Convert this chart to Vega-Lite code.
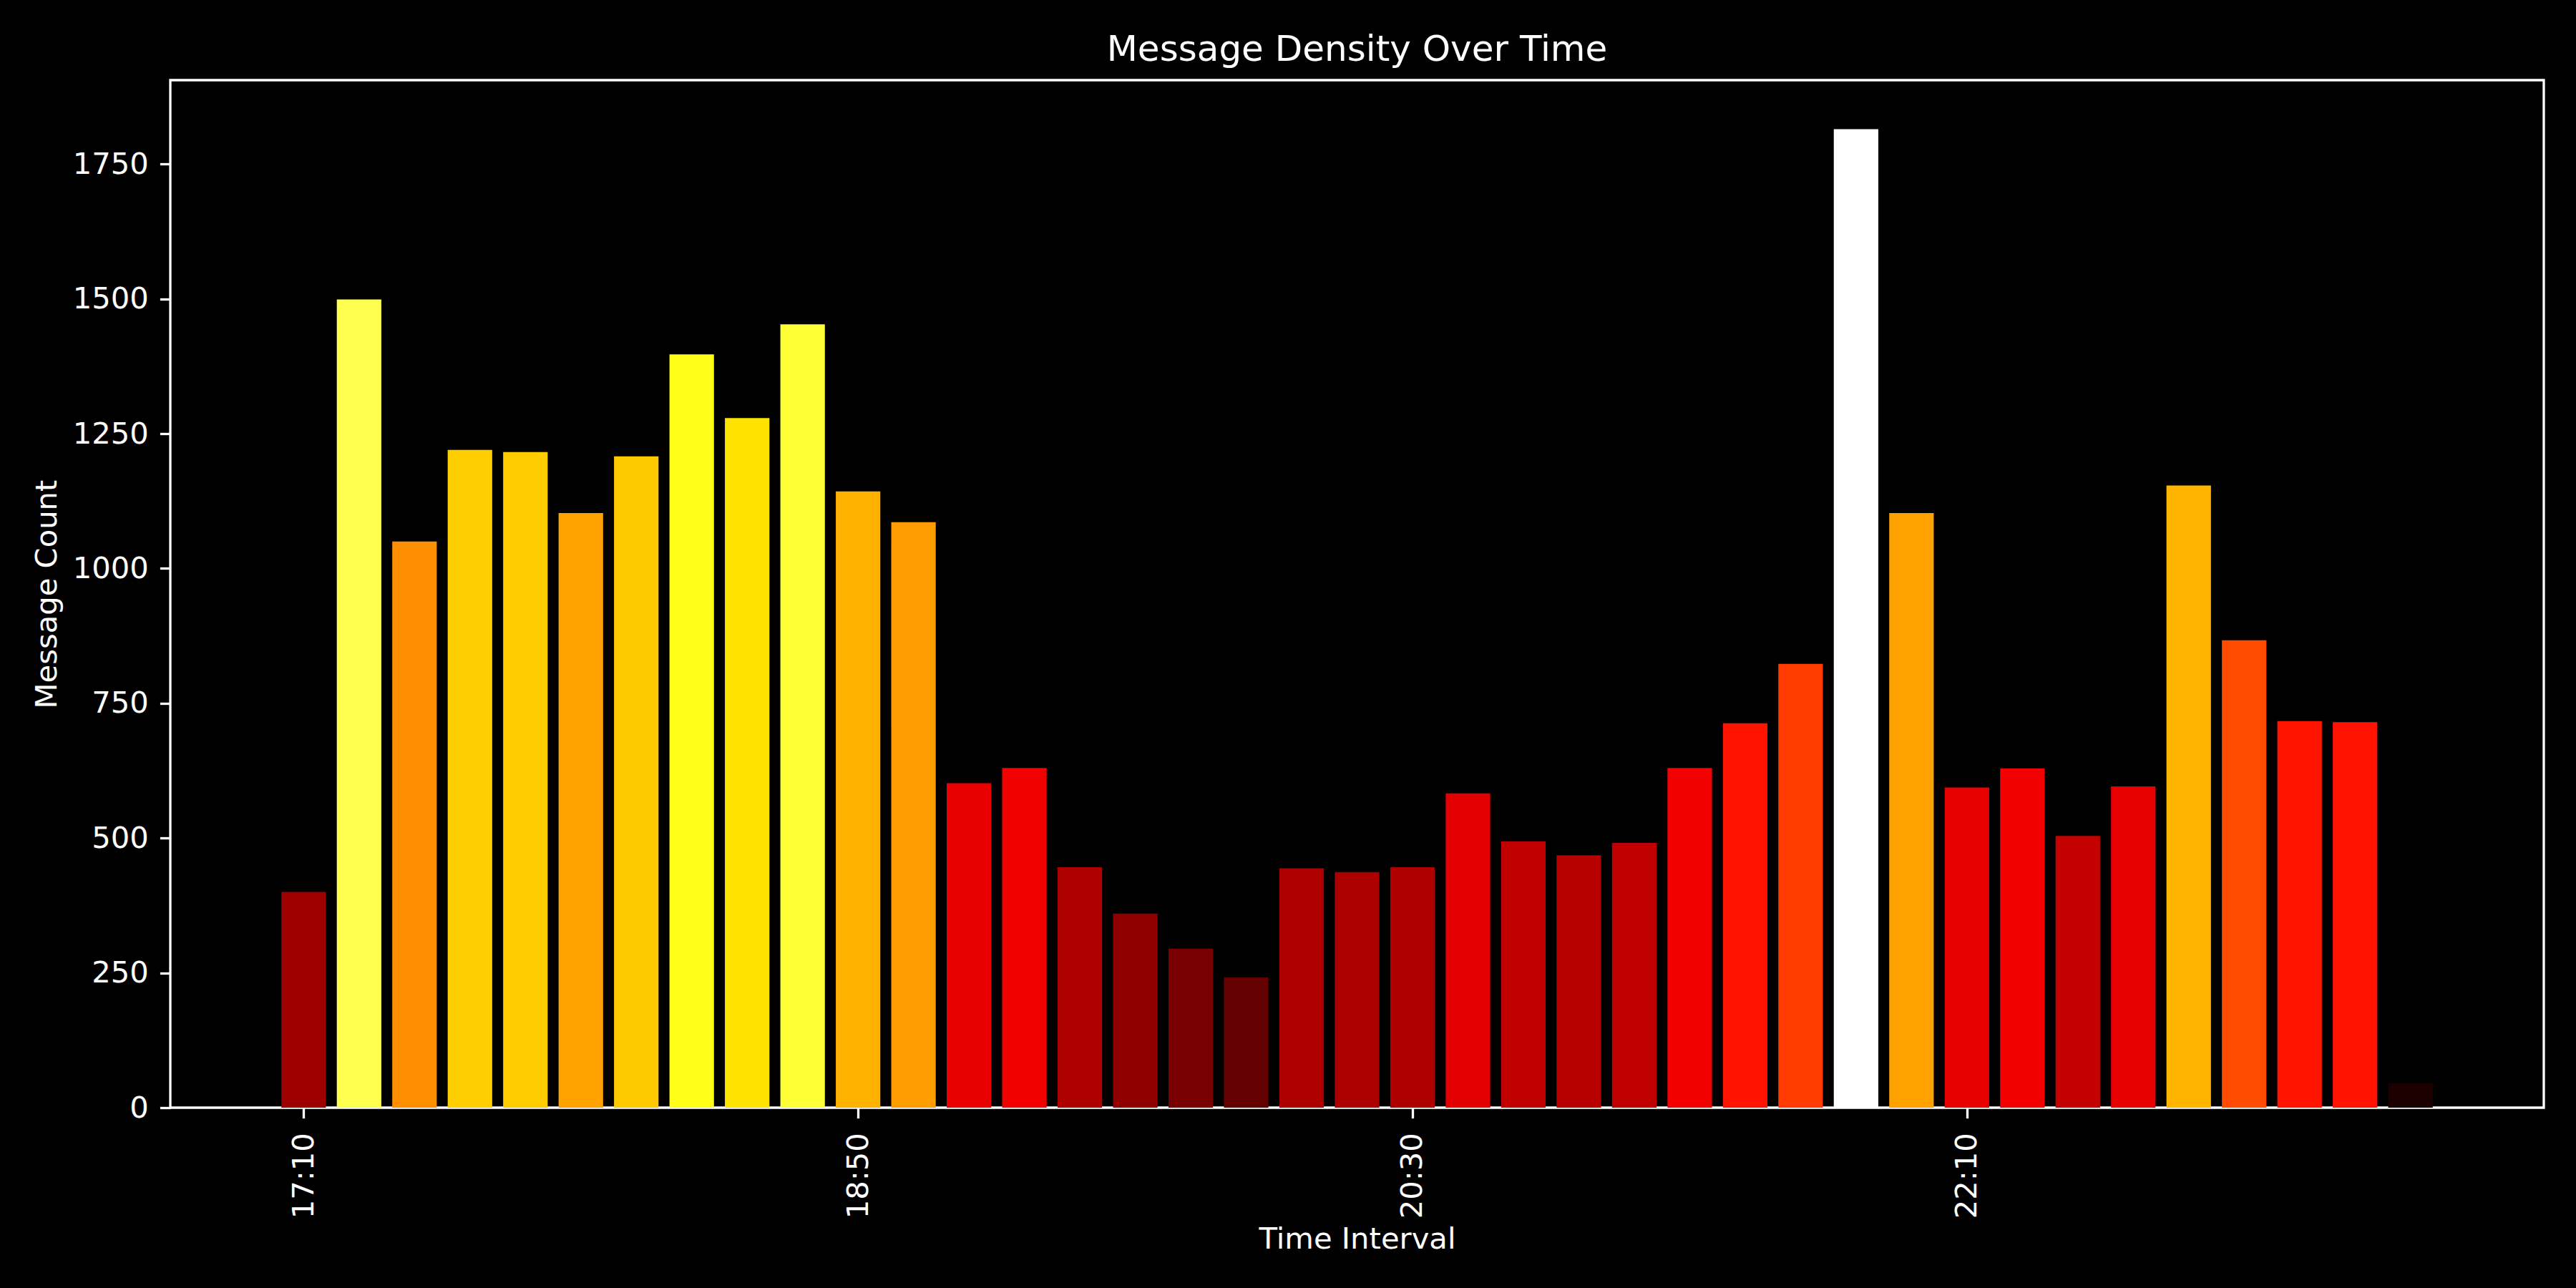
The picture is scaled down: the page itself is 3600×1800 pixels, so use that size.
{
  "$schema": "https://vega.github.io/schema/vega-lite/v6.json",
  "width": 3317,
  "height": 1436,
  "autosize": {"type": "none"},
  "padding": {"left": 238, "top": 112, "right": 45, "bottom": 252},
  "background": "black",
  "title": {
    "text": "Message Density Over Time",
    "fontSize": 50,
    "font": "DejaVu Sans",
    "fontWeight": "normal",
    "color": "white",
    "baseline": "alphabetic",
    "offset": 25,
    "dy": 48,
    "anchor": "middle"
  },
  "config": {
    "view": {"stroke": "white", "strokeWidth": 3.3, "fill": "black"},
    "font": "DejaVu Sans",
    "axis": {
      "grid": false,
      "domain": false,
      "tickColor": "white",
      "tickWidth": 3.3,
      "tickSize": 14.6,
      "labelColor": "white",
      "labelFont": "DejaVu Sans",
      "labelFontSize": 41.7,
      "titleColor": "white",
      "titleFont": "DejaVu Sans",
      "titleFontSize": 41.7,
      "titleFontWeight": "normal"
    }
  },
  "data": {
    "values": [
      {"time": "2024-01-01T17:10:00", "count": 400},
      {"time": "2024-01-01T17:20:00", "count": 1499},
      {"time": "2024-01-01T17:30:00", "count": 1050},
      {"time": "2024-01-01T17:40:00", "count": 1220},
      {"time": "2024-01-01T17:50:00", "count": 1216},
      {"time": "2024-01-01T18:00:00", "count": 1103},
      {"time": "2024-01-01T18:10:00", "count": 1208},
      {"time": "2024-01-01T18:20:00", "count": 1397},
      {"time": "2024-01-01T18:30:00", "count": 1279},
      {"time": "2024-01-01T18:40:00", "count": 1453},
      {"time": "2024-01-01T18:50:00", "count": 1143},
      {"time": "2024-01-01T19:00:00", "count": 1086},
      {"time": "2024-01-01T19:10:00", "count": 602},
      {"time": "2024-01-01T19:20:00", "count": 630},
      {"time": "2024-01-01T19:30:00", "count": 446},
      {"time": "2024-01-01T19:40:00", "count": 360},
      {"time": "2024-01-01T19:50:00", "count": 295},
      {"time": "2024-01-01T20:00:00", "count": 242},
      {"time": "2024-01-01T20:10:00", "count": 444},
      {"time": "2024-01-01T20:20:00", "count": 437},
      {"time": "2024-01-01T20:30:00", "count": 446},
      {"time": "2024-01-01T20:40:00", "count": 583},
      {"time": "2024-01-01T20:50:00", "count": 494},
      {"time": "2024-01-01T21:00:00", "count": 468},
      {"time": "2024-01-01T21:10:00", "count": 491},
      {"time": "2024-01-01T21:20:00", "count": 630},
      {"time": "2024-01-01T21:30:00", "count": 713},
      {"time": "2024-01-01T21:40:00", "count": 823},
      {"time": "2024-01-01T21:50:00", "count": 1815},
      {"time": "2024-01-01T22:00:00", "count": 1103},
      {"time": "2024-01-01T22:10:00", "count": 594},
      {"time": "2024-01-01T22:20:00", "count": 629},
      {"time": "2024-01-01T22:30:00", "count": 504},
      {"time": "2024-01-01T22:40:00", "count": 596},
      {"time": "2024-01-01T22:50:00", "count": 1154},
      {"time": "2024-01-01T23:00:00", "count": 867},
      {"time": "2024-01-01T23:10:00", "count": 717},
      {"time": "2024-01-01T23:20:00", "count": 715},
      {"time": "2024-01-01T23:30:00", "count": 45}
    ]
  },
  "mark": {"type": "bar", "width": 62.2, "stroke": null},
  "encoding": {
    "x": {
      "field": "time",
      "type": "temporal",
      "title": "Time Interval",
      "scale": {
        "domain": [
          {"year": 2024, "month": 1, "date": 1, "hours": 16, "minutes": 46, "seconds": 36},
          {"year": 2024, "month": 1, "date": 1, "hours": 23, "minutes": 53, "seconds": 24}
        ]
      },
      "axis": {
        "values": [
          {"year": 2024, "month": 1, "date": 1, "hours": 17, "minutes": 10},
          {"year": 2024, "month": 1, "date": 1, "hours": 18, "minutes": 50},
          {"year": 2024, "month": 1, "date": 1, "hours": 20, "minutes": 30},
          {"year": 2024, "month": 1, "date": 1, "hours": 22, "minutes": 10}
        ],
        "format": "%H:%M",
        "labelAngle": -90,
        "labelPadding": 20,
        "titlePadding": 9,
        "labelFlush": false,
        "labelOverlap": false
      }
    },
    "y": {
      "field": "count",
      "type": "quantitative",
      "title": "Message Count",
      "scale": {"domain": [0, 1905.75], "nice": false, "zero": true},
      "axis": {
        "values": [0, 250, 500, 750, 1000, 1250, 1500, 1750],
        "format": "d",
        "labelPadding": 16,
        "titlePadding": 14
      }
    },
    "color": {
      "field": "count",
      "type": "quantitative",
      "scale": {
        "type": "linear",
        "domain": [0, 662.6, 1354.0, 1815],
        "range": ["#0b0000", "#ff0000", "#ffff00", "#ffffff"],
        "interpolate": "rgb"
      },
      "legend": null
    }
  }
}
